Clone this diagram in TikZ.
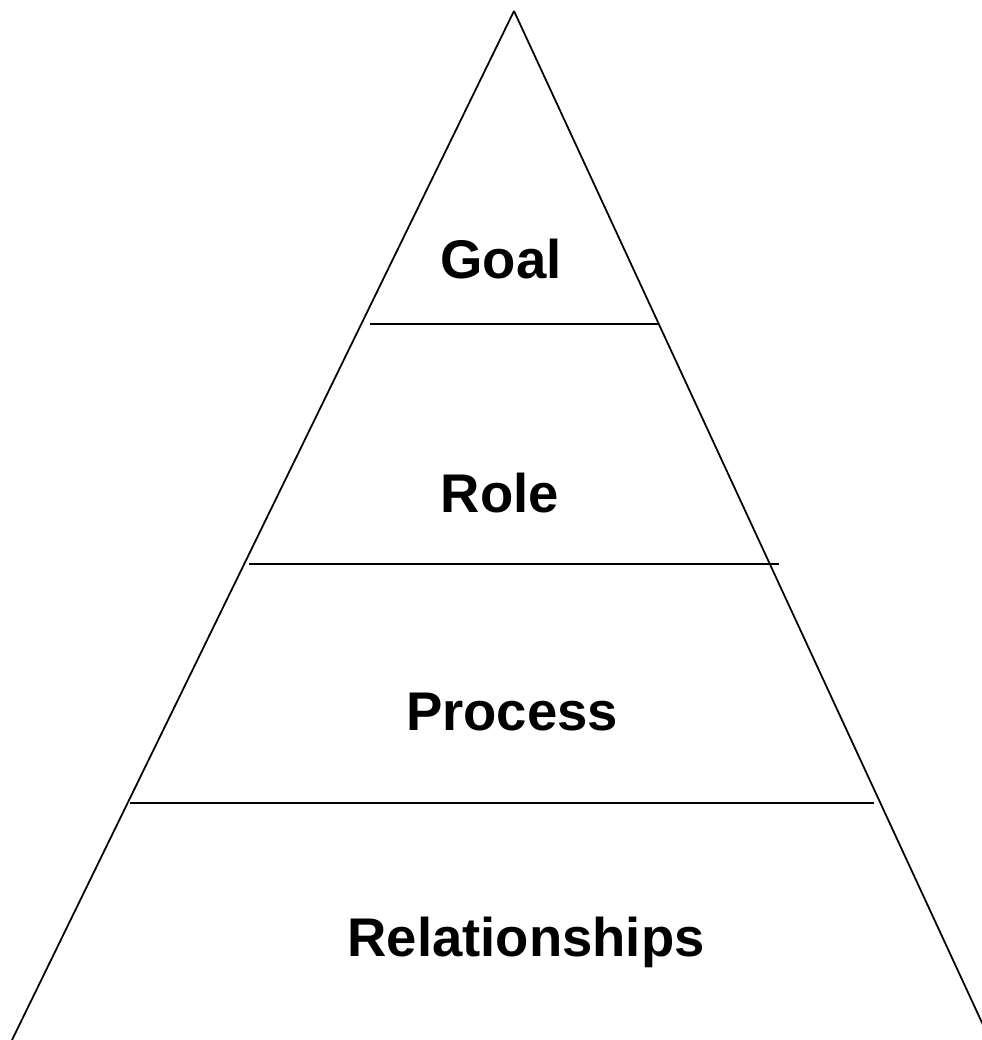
\documentclass[tikz,border=0pt]{standalone}
\usepackage{fontspec}
\setmainfont{Liberation Sans}
\usepackage{tikz}
\tikzset{level/.style={font=\fontsize{31}{37}\selectfont\bfseries, anchor=base, inner sep=0pt}}

\begin{document}
\begin{tikzpicture}[x=0.02cm, y=-0.02cm, line width=1pt]
			%%%%% START %%%%%
			
			\useasboundingbox (0, 0) rectangle (982, 1040);
			\clip (0, 0) rectangle (982, 1040);
			
			\coordinate (top) at (514, 11);
			\draw (top) -- (12, 1040);
			\draw (top) -- (990, 1040);
			
			\draw (370, 324) -- (658, 324);
			\draw (249, 564) -- (779, 564);
			\draw (130, 803) -- (874, 803);
			
			\node[level] (goal) at (501, 278) {Goal};
			\node[level] (role) at (500, 512) {Role};
			\node[level] (process) at (512, 730) {Process};
			\node[level] (relationships) at (526, 956) {Relationships};
			
			%%%%% END %%%%%
		\end{tikzpicture}
\end{document}
